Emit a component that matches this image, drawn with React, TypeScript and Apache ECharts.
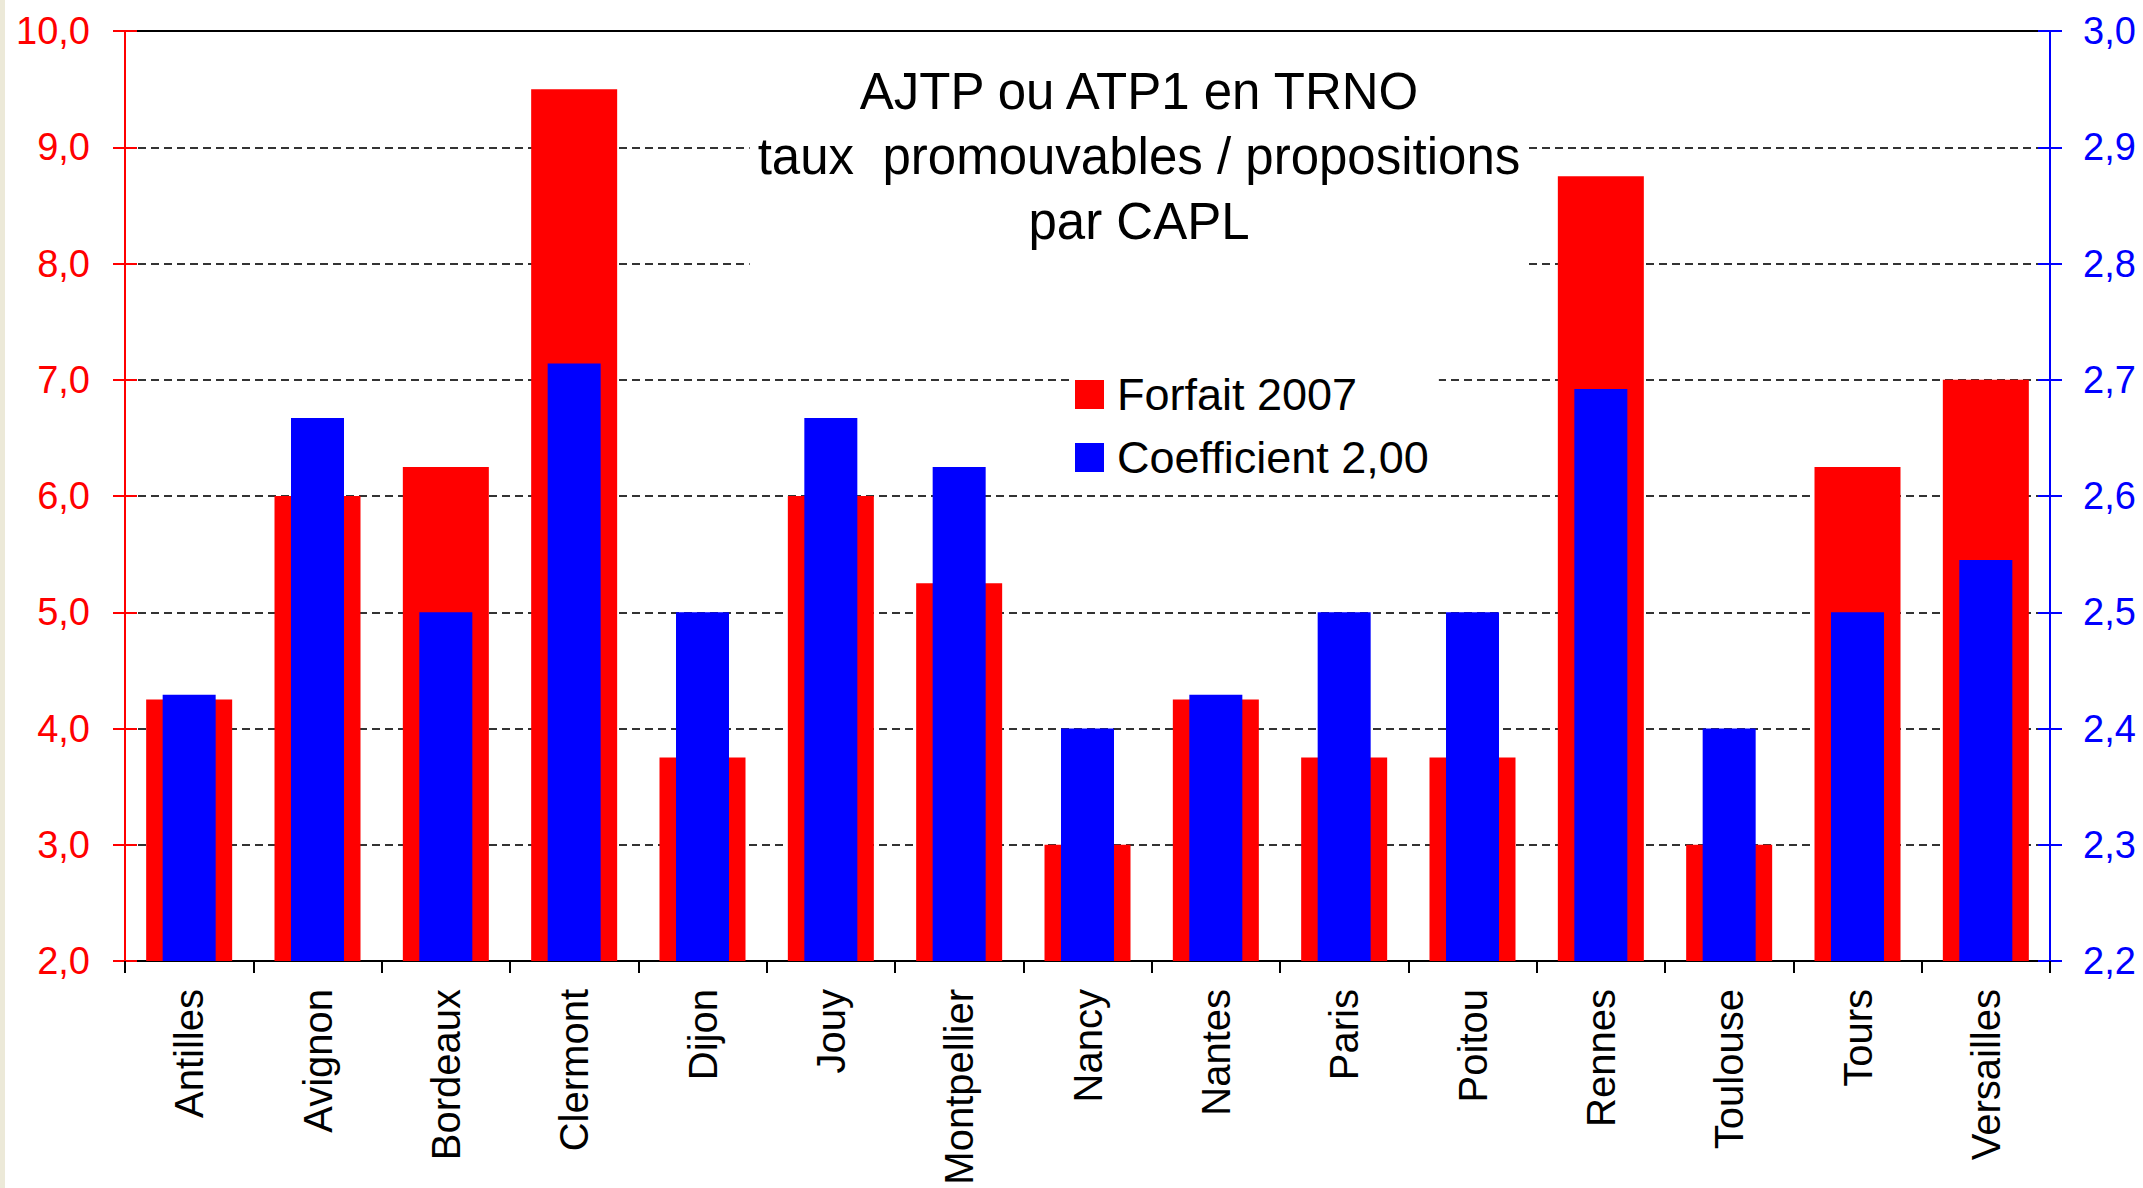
import React, { useEffect, useRef } from 'react';
import * as echarts from 'echarts';

const categories = ['Antilles', 'Avignon', 'Bordeaux', 'Clermont', 'Dijon', 'Jouy', 'Montpellier', 'Nancy', 'Nantes', 'Paris', 'Poitou', 'Rennes', 'Toulouse', 'Tours', 'Versailles'];
const forfait2007 = [4.25, 6.0, 6.25, 9.5, 3.75, 6.0, 5.25, 3.0, 4.25, 3.75, 3.75, 8.75, 3.0, 6.25, 7.0];
const coefficient200 = [2.429, 2.667, 2.5, 2.714, 2.5, 2.667, 2.625, 2.4, 2.429, 2.5, 2.5, 2.692, 2.4, 2.5, 2.545];
const seriesNames = ['Forfait 2007', 'Coefficient 2,00'];
const titleLines = ['AJTP ou ATP1 en TRNO', 'taux  promouvables / propositions', 'par CAPL'];
const leftRange = { min: 2, max: 10, interval: 1 };
const rightRange = { min: 2.2, max: 3.0, interval: 0.1 };

const FONT = '"Liberation Sans", Arial, sans-serif';
const RED = '#FF0000';
const BLUE = '#0000FF';
const fmt = (v: number) => v.toFixed(1).replace('.', ',');

export default function App() {
  const ref = useRef<HTMLDivElement>(null);
  useEffect(() => {
    if (!ref.current) return;
    const chart = echarts.init(ref.current, null, { renderer: 'svg' });
    const leftBase = { type: 'value', ...leftRange };
    const rightBase = { type: 'value', ...rightRange };
    chart.setOption({
      animation: false,
      backgroundColor: '#ffffff',
      grid: { left: 125, right: 93, top: 31, bottom: 227, containLabel: false },
      graphic: [
        { type: 'rect', left: 0, top: 0, shape: { x: 0, y: 0, width: 5, height: 1188 }, style: { fill: '#ECE9D8' }, z: 100 },
        {
          type: 'text',
          x: 1139,
          y: 51,
          z: 100,
          style: {
            text: titleLines.join('\n'),
            fontSize: 51,
            lineHeight: 65,
            fontFamily: FONT,
            fill: '#000',
            align: 'center',
            verticalAlign: 'top',
            backgroundColor: '#ffffff',
            padding: [8, 8, 16, 8],
          },
        },
      ],
      legend: {
        orient: 'vertical',
        left: 1073,
        top: 362,
        padding: [10, 10, 10, 2],
        backgroundColor: '#ffffff',
        itemWidth: 29,
        itemHeight: 29,
        itemGap: 18,
        itemTextGap: 14,
        icon: 'rect',
        selectedMode: false,
        textStyle: { fontSize: 45, lineHeight: 30, color: '#000', fontFamily: FONT, padding: [0, 0, 0, 8] },
        data: seriesNames,
      },
      xAxis: [
        {
          type: 'category',
          data: categories,
          position: 'bottom',
          axisLine: { show: true, onZero: false, lineStyle: { color: '#000', width: 2 } },
          axisTick: { show: true, length: 12, lineStyle: { color: '#000', width: 2 } },
          axisLabel: { rotate: 90, fontSize: 40, color: '#000', margin: 28, fontFamily: FONT, interval: 0 },
          splitLine: { show: false },
        },
        {
          type: 'category',
          data: categories,
          position: 'top',
          axisLine: { show: true, onZero: false, lineStyle: { color: '#000', width: 2 } },
          axisTick: { show: false },
          axisLabel: { show: false },
          splitLine: { show: false },
        },
      ],
      yAxis: [
        {
          ...leftBase,
          position: 'left',
          axisLine: { show: true, onZero: false, lineStyle: { color: RED, width: 2 } },
          axisTick: { show: true, length: 12, lineStyle: { color: RED, width: 2 } },
          axisLabel: { color: RED, fontSize: 38, margin: 35, fontFamily: FONT, formatter: fmt },
          splitLine: { show: true, lineStyle: { color: '#333', width: 2, type: [8, 5] } },
        },
        {
          ...rightBase,
          position: 'right',
          axisLine: { show: true, onZero: false, lineStyle: { color: BLUE, width: 2 } },
          axisTick: { show: true, length: 12, lineStyle: { color: BLUE, width: 2 } },
          axisLabel: { color: BLUE, fontSize: 38, margin: 33, fontFamily: FONT, formatter: fmt },
          splitLine: { show: false },
        },
        {
          ...leftBase,
          position: 'left',
          axisLine: { show: false },
          axisTick: { show: true, inside: true, length: 12, lineStyle: { color: RED, width: 2 } },
          axisLabel: { show: false },
          splitLine: { show: false },
        },
        {
          ...rightBase,
          position: 'right',
          axisLine: { show: false },
          axisTick: { show: true, inside: true, length: 12, lineStyle: { color: BLUE, width: 2 } },
          axisLabel: { show: false },
          splitLine: { show: false },
        },
      ],
      series: [
        {
          name: seriesNames[0],
          type: 'bar',
          xAxisIndex: 0,
          yAxisIndex: 0,
          data: forfait2007,
          barWidth: 86,
          clip: true,
          itemStyle: { color: RED },
          z: 2,
        },
        {
          name: seriesNames[1],
          type: 'bar',
          xAxisIndex: 1,
          yAxisIndex: 1,
          data: coefficient200,
          barWidth: 53,
          clip: true,
          itemStyle: { color: BLUE },
          z: 3,
        },
      ],
    });
    return () => chart.dispose();
  }, []);
  return <div ref={ref} style={{ position: 'fixed', left: 0, top: 0, width: 2143, height: 1188 }} />;
}
